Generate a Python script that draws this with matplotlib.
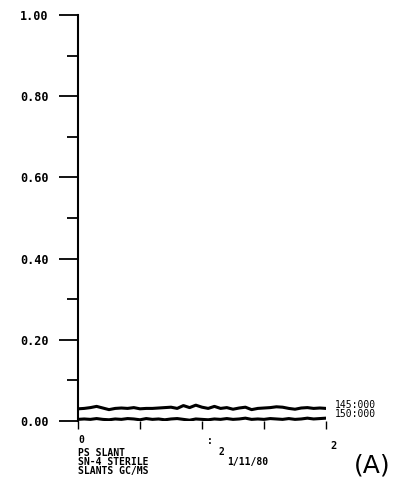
import numpy as np
import matplotlib.pyplot as plt

# trace data
x_vals = [0.00, 0.05, 0.10, 0.15, 0.20, 0.25, 0.30, 0.35, 0.40, 0.45,
          0.50, 0.55, 0.60, 0.65, 0.70, 0.75, 0.80, 0.85, 0.90, 0.95,
          1.00, 1.05, 1.10, 1.15, 1.20, 1.25, 1.30, 1.35, 1.40, 1.45,
          1.50, 1.55, 1.60, 1.65, 1.70, 1.75, 1.80, 1.85, 1.90, 1.95, 2.00]
upper = [0.030, 0.031, 0.033, 0.036, 0.032, 0.028, 0.031, 0.032, 0.031, 0.033,
         0.030, 0.031, 0.031, 0.032, 0.033, 0.034, 0.031, 0.038, 0.033, 0.039,
         0.034, 0.031, 0.036, 0.031, 0.033, 0.029, 0.032, 0.034, 0.028, 0.031,
         0.032, 0.033, 0.035, 0.034, 0.031, 0.029, 0.032, 0.033, 0.031, 0.032, 0.031]
lower = [0.004, 0.005, 0.004, 0.006, 0.004, 0.003, 0.005, 0.004, 0.006, 0.005,
         0.003, 0.006, 0.004, 0.005, 0.003, 0.005, 0.006, 0.004, 0.002, 0.005,
         0.004, 0.003, 0.005, 0.004, 0.006, 0.004, 0.005, 0.007, 0.004, 0.005,
         0.004, 0.006, 0.005, 0.004, 0.006, 0.004, 0.005, 0.007, 0.005, 0.006, 0.007]
y_ticks = [0.0, 0.2, 0.4, 0.6, 0.8, 1.0]
y_labels = ['0.00', '0.20', '0.40', '0.60', '0.80', '1.00']
x_ticks = [0, 0.5, 1, 1.5, 2]
trace_labels = ['145:000', '150:000']
footer = ['PS SLANT', 'SN-4 STERILE', 'SLANTS GC/MS']
run_date = '1/11/80'

mono = 'DejaVu Sans Mono'

fig = plt.figure(figsize=(4.10, 4.91), dpi=100)
ax = fig.add_axes([78/410, 1 - 421/491, 248/410, 406/491])

ax.plot(x_vals, upper, color='black', lw=2.2)
ax.plot(x_vals, lower, color='black', lw=2.2)

ax.set_xlim(0, 2)
ax.set_ylim(0, 1)
for s in ['top', 'right', 'bottom']:
    ax.spines[s].set_visible(False)
ax.spines['left'].set_linewidth(1.5)

ax.set_yticks(y_ticks)
ax.set_yticklabels(y_labels, fontfamily=mono, fontweight='bold', fontsize=8.5)
ax.set_yticks(np.arange(0.1, 1.0, 0.2), minor=True)
ax.tick_params(axis='y', which='major', length=14, width=1.3, pad=7)
ax.tick_params(axis='y', which='minor', length=8, width=1.3)

ax.set_xticks(x_ticks)
ax.set_xticklabels([])
ax.tick_params(axis='x', length=6, width=1.0, direction='out')

# right hand trace labels
ax.text(2.07, upper[-1] - 0.003, '\n'.join(trace_labels), fontfamily=mono,
        fontsize=7, va='center', ha='left', linespacing=0.85)

# axis labels and footer as plotter text
fig.text(78/410, 1 - 440/491, '0', fontfamily=mono, fontsize=7, fontweight='bold', va='center')
fig.text(207/410, 1 - 441/491, ':', fontfamily=mono, fontsize=7, fontweight='bold', va='center')
fig.text(330/410, 1 - 446/491, '2', fontfamily=mono, fontsize=7.5, fontweight='bold', va='center')
fig.text(219/410, 1 - 452/491, '2', fontfamily=mono, fontsize=7, fontweight='bold', va='center')
fig.text(78/410, 1 - 462/491, '\n'.join(footer), fontfamily=mono, fontsize=7,
         fontweight='bold', va='center', ha='left', linespacing=0.85)
fig.text(227/410, 1 - 462/491, run_date, fontfamily=mono, fontsize=7,
         fontweight='bold', va='center')

fig.text(354/410, 1 - 466/491, '(A)', fontsize=18, va='center')

fig.savefig('out.png', dpi=100)
